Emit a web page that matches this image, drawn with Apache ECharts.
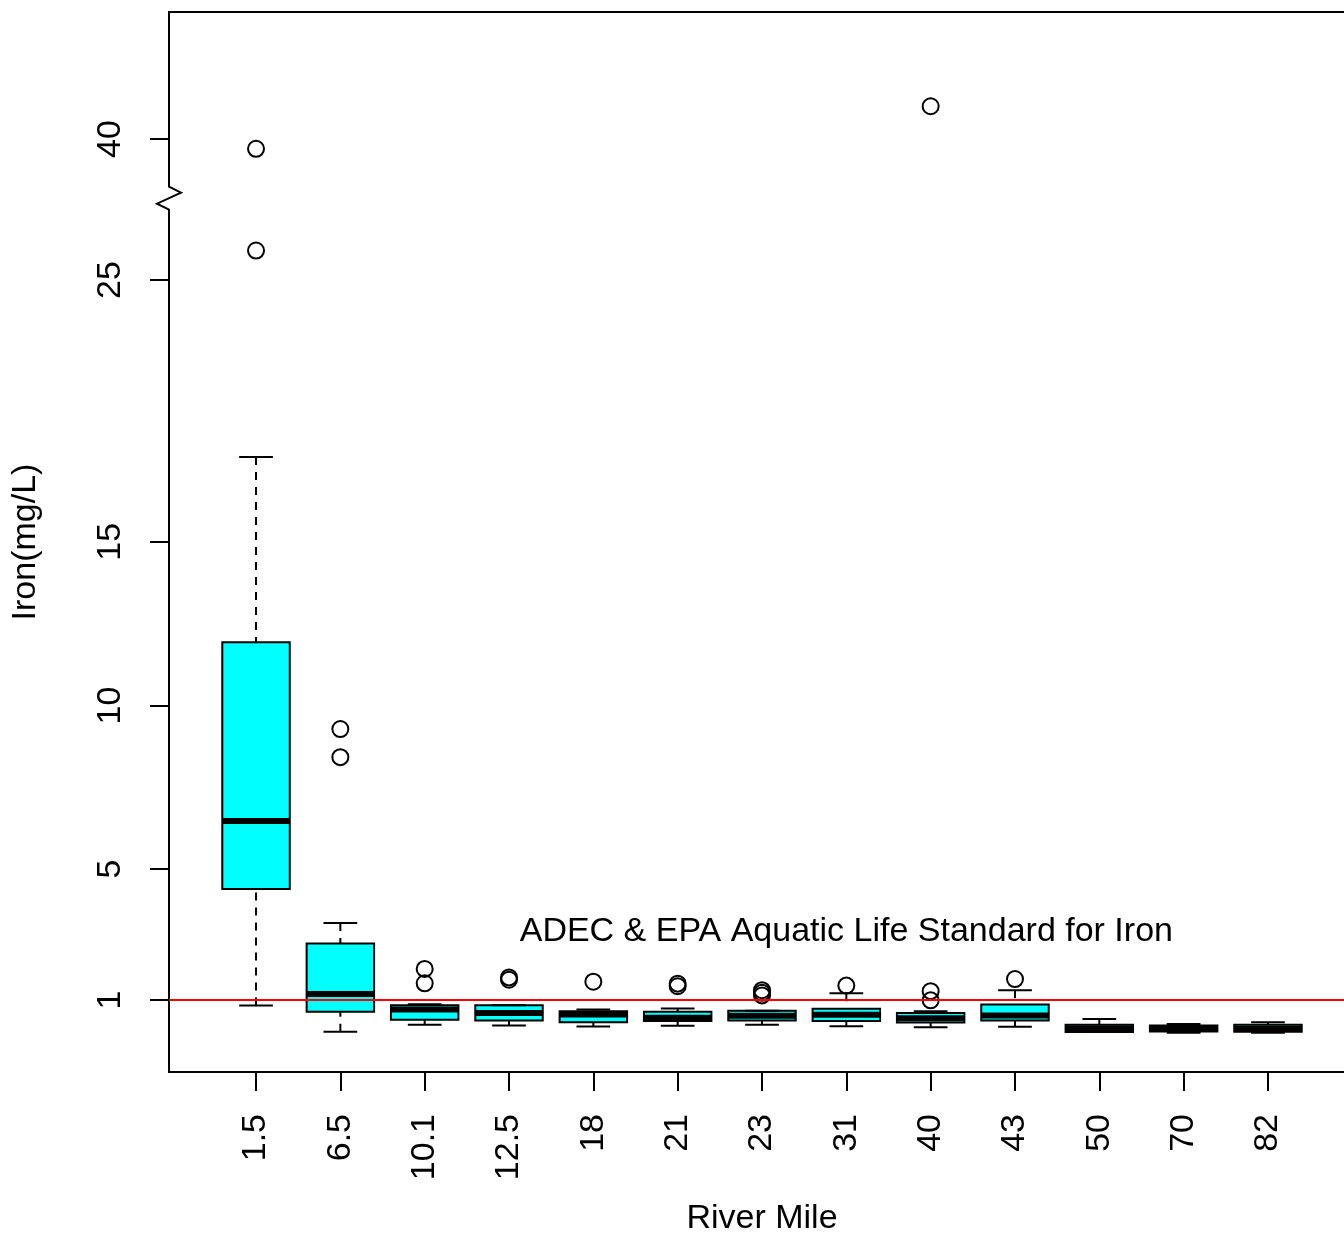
<!DOCTYPE html>
<html>
<head>
<meta charset="utf-8">
<script src="https://cdn.jsdelivr.net/npm/echarts@6/dist/echarts.min.js"></script>
<style>
  html, body { margin: 0; padding: 0; background: #fff; }
  #chart { width: 1344px; height: 1235px; }
</style>
</head>
<body>
<div id="chart"></div>
<script>
// ---------------- data (Iron, mg/L) ----------------
const riverMiles   = ['1.5', '6.5', '10.1', '12.5', '18', '21', '23', '31', '40', '43', '50', '70', '82'];
const lowerWhisker = [0.83, 0.03, 0.24, 0.22, 0.19, 0.21, 0.24, 0.20, 0.17, 0.18, 0.02, 0.00, 0.00];
const q1Values     = [4.39, 0.64, 0.40, 0.37, 0.32, 0.36, 0.37, 0.36, 0.31, 0.37, 0.02, 0.04, 0.03];
const medianValues = [6.47, 1.18, 0.71, 0.60, 0.56, 0.46, 0.52, 0.55, 0.44, 0.53, 0.13, 0.12, 0.12];
const q3Values     = [11.93, 2.73, 0.84, 0.84, 0.66, 0.64, 0.67, 0.73, 0.60, 0.86, 0.24, 0.22, 0.24];
const upperWhisker = [17.59, 3.35, 0.87, 0.84, 0.71, 0.74, 0.67, 1.21, 0.66, 1.30, 0.42, 0.27, 0.32];

const outlierMiles  = ['1.5', '1.5', '6.5', '6.5', '10.1', '10.1', '12.5', '12.5', '18', '21', '21', '23', '23', '23', '31', '40', '40', '40', '43'];
const outlierValues = [25.9, 39.7, 9.28, 8.42, 1.95, 1.51, 1.69, 1.62, 1.56, 1.50, 1.42, 1.30, 1.22, 1.14, 1.44, 41.0, 1.27, 0.99, 1.64];

const yTickLabels = [1, 5, 10, 15, 25, 40];
const ironStandard = 1;
const annotationText = 'ADEC & EPA Aquatic Life Standard for Iron';
const annotationMile = '31';
const annotationY = 3.08;

// broken-axis transform (real value -> axis position)
function toAxis(v) {
  if (v > 30) return v - 12.69;
  if (v > 20) return v - 2;
  return v;
}
const breakAxisPos = 25.5;

// ---------------- chart ----------------
const FONT = '"Liberation Sans", Arial, Helvetica, sans-serif';
const xMin = -1.032, xMax = riverMiles.length - 1 + 1.032;
const yMin = -1.2, yMax = 31.19;

const idx = m => riverMiles.indexOf(m);
const boxData = riverMiles.map((m, i) => [i,
  toAxis(lowerWhisker[i]), toAxis(q1Values[i]), toAxis(medianValues[i]),
  toAxis(q3Values[i]), toAxis(upperWhisker[i])]);
const outlierData = outlierMiles.map((m, i) => [idx(m), toAxis(outlierValues[i])]);
const yTickPos = yTickLabels.map(toAxis);
const xTickPos = riverMiles.map((m, i) => i);

function renderBox(params, api) {
  const x = api.value(0);
  const lo = api.coord([x, api.value(1)]);
  const q1 = api.coord([x, api.value(2)]);
  const md = api.coord([x, api.value(3)]);
  const q3 = api.coord([x, api.value(4)]);
  const hi = api.coord([x, api.value(5)]);
  const halfW = api.size([1, 0])[0] * 0.4;
  const capHalf = halfW * 0.5;
  const cx = md[0];
  const black = '#000';
  const children = [];
  children.push({
    type: 'rect',
    shape: { x: cx - halfW, y: q3[1], width: halfW * 2, height: q1[1] - q3[1] },
    style: { fill: '#00FFFF', stroke: black, lineWidth: 2 }
  });
  children.push({
    type: 'line',
    shape: { x1: cx - halfW, y1: md[1], x2: cx + halfW, y2: md[1] },
    style: { stroke: black, lineWidth: 6 }
  });
  if (hi[1] < q3[1] - 0.5) {
    children.push({ type: 'line', shape: { x1: cx, y1: hi[1], x2: cx, y2: q3[1] },
      style: { stroke: black, lineWidth: 2, lineDash: [8, 7] } });
  }
  if (lo[1] > q1[1] + 0.5) {
    children.push({ type: 'line', shape: { x1: cx, y1: lo[1], x2: cx, y2: q1[1] },
      style: { stroke: black, lineWidth: 2, lineDash: [8, 7] } });
  }
  children.push({ type: 'line', shape: { x1: cx - capHalf, y1: hi[1], x2: cx + capHalf, y2: hi[1] },
    style: { stroke: black, lineWidth: 2 } });
  children.push({ type: 'line', shape: { x1: cx - capHalf, y1: lo[1], x2: cx + capHalf, y2: lo[1] },
    style: { stroke: black, lineWidth: 2 } });
  return { type: 'group', children };
}

function renderBreak(params, api) {
  const p = api.coord([api.value(0), api.value(1)]);
  const x = p[0], y = p[1];
  return {
    type: 'group',
    children: [
      { type: 'rect', shape: { x: x - 4, y: y - 11.5, width: 8, height: 23 },
        style: { fill: '#fff', stroke: null } },
      { type: 'polyline',
        shape: { points: [[x, y - 12.5], [x, y - 11.5], [x + 12, y - 5.5], [x - 12, y + 5.5], [x, y + 11.5], [x, y + 12.5]] },
        style: { stroke: '#000', lineWidth: 2, fill: null } }
    ]
  };
}

function renderAnnotation(params, api) {
  const p = api.coord([api.value(0), api.value(1)]);
  return {
    type: 'text',
    x: p[0], y: p[1],
    style: {
      text: annotationText, fill: '#000', opacity: 1,
      font: '34px ' + FONT, align: 'center', verticalAlign: 'middle'
    }
  };
}

const chart = echarts.init(document.getElementById('chart'), null, { renderer: 'canvas' });
chart.setOption({
  animation: false,
  backgroundColor: '#fff',
  grid: {
    left: 169, top: 12, width: 1186, height: 1060,
    show: true, borderColor: '#000', borderWidth: 2, backgroundColor: 'transparent',
    containLabel: false, outerBoundsMode: 'none'
  },
  xAxis: {
    type: 'value', min: xMin, max: xMax,
    name: 'River Mile', nameLocation: 'middle', nameGap: 130,
    nameTextStyle: { fontSize: 34, color: '#000', fontFamily: FONT },
    axisLine: { show: true, onZero: false, lineStyle: { color: '#000', width: 2 } },
    axisTick: { show: true, length: 19, lineStyle: { color: '#000', width: 2 }, customValues: xTickPos },
    axisLabel: { show: true, rotate: 90, margin: 42, fontSize: 34, color: '#000', fontFamily: FONT,
      customValues: xTickPos, formatter: v => riverMiles[Math.round(v)] },
    splitLine: { show: false }
  },
  yAxis: {
    type: 'value', min: yMin, max: yMax,
    name: 'Iron(mg/L)', nameLocation: 'middle', nameGap: 126,
    nameTextStyle: { fontSize: 34, color: '#000', fontFamily: FONT },
    axisLine: { show: true, onZero: false, lineStyle: { color: '#000', width: 2 } },
    axisTick: { show: true, length: 19, lineStyle: { color: '#000', width: 2 }, customValues: yTickPos },
    axisLabel: { show: true, rotate: 90, margin: 41, fontSize: 34, color: '#000', fontFamily: FONT,
      customValues: yTickPos,
      formatter: v => {
        let best = 0, d = Infinity;
        yTickPos.forEach((p, i) => { if (Math.abs(p - v) < d) { d = Math.abs(p - v); best = i; } });
        return String(yTickLabels[best]);
      } },
    splitLine: { show: false }
  },
  series: [
    {
      type: 'custom', name: 'boxes', renderItem: renderBox, data: boxData, z: 2,
      encode: { x: 0, y: [1, 2, 3, 4, 5] }
    },
    {
      type: 'scatter', name: 'outliers', data: outlierData, symbol: 'circle', symbolSize: 16, z: 3,
      itemStyle: { color: 'rgba(0,0,0,0)', borderColor: '#000', borderWidth: 2, opacity: 1 },
      markLine: {
        silent: true, symbol: ['none', 'none'], z: 6, animation: false,
        label: { show: false },
        lineStyle: { color: '#ff0000', width: 2, type: 'solid', opacity: 1 },
        emphasis: { disabled: true },
        data: [{ yAxis: toAxis(ironStandard) }]
      }
    },
    {
      type: 'custom', name: 'annotation', renderItem: renderAnnotation, clip: false, z: 7,
      data: [[idx(annotationMile), toAxis(annotationY)]]
    },
    {
      type: 'custom', name: 'axisBreak', renderItem: renderBreak, clip: false, z: 10,
      data: [[xMin, breakAxisPos]]
    }
  ]
});
</script>
</body>
</html>
